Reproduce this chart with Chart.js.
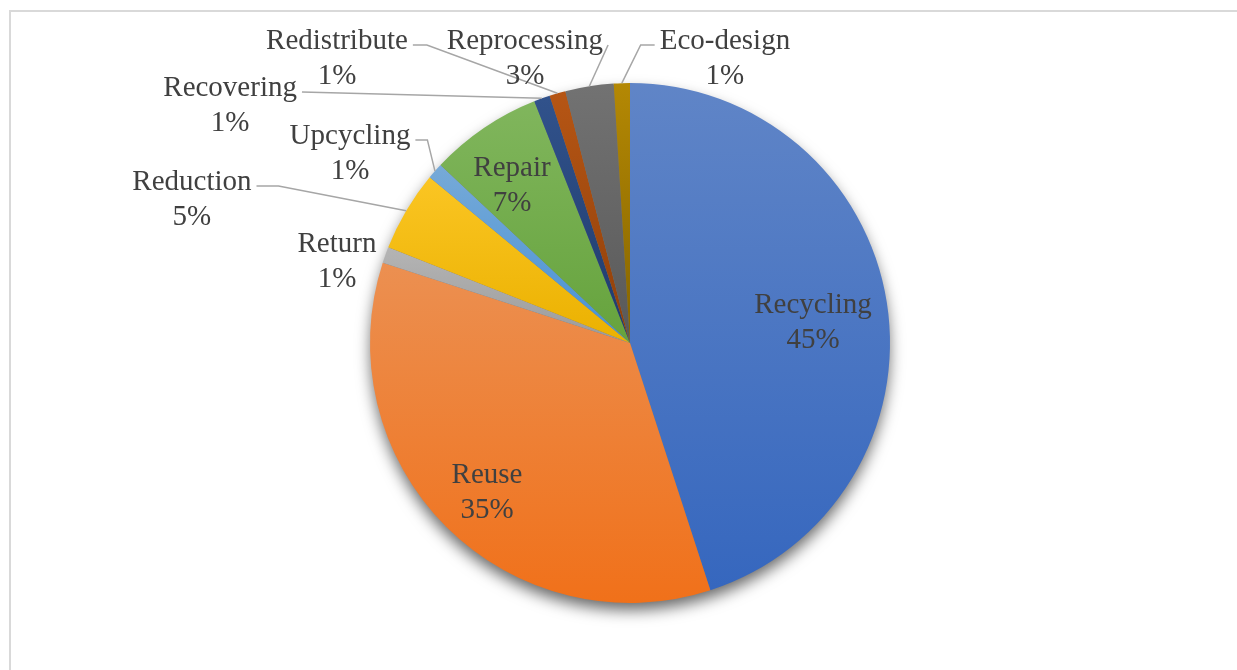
<!DOCTYPE html>
<html>
<head>
<meta charset="utf-8">
<script src="https://cdn.jsdelivr.net/npm/chart.js@4/dist/chart.umd.min.js"></script>
<style>
  html, body { margin: 0; padding: 0; background: #fff; overflow: hidden; }
  #wrap { position: relative; width: 1237px; height: 670px; }
  #frame { position: absolute; left: 9px; top: 10px; width: 1300px; height: 700px;
           border-left: 2px solid #d9d9d9; border-top: 2px solid #d9d9d9; }
  #pie { position: absolute; left: 0; top: 0; }
</style>
</head>
<body>
<div id="wrap">
  <div id="frame"></div>
  <canvas id="pie" width="1237" height="670"></canvas>
</div>
<script>
var categories = ['Recycling', 'Reuse', 'Return', 'Reduction', 'Upcycling',
                  'Repair', 'Recovering', 'Redistribute', 'Reprocessing', 'Eco-design'];
var shares = [45, 35, 1, 5, 1, 7, 1, 1, 3, 1];

// office palette
var baseColors = ['#4472C4', '#ED7D31', '#A5A5A5', '#FFC000', '#5B9BD5',
                  '#70AD47', '#264478', '#9E480E', '#636363', '#997300'];

// label centre, in pie radii from the centre; inside = drawn on the slice
var labelSpots = [
  [0.704, -0.081], [-0.550, 0.573], [-1.127, -0.315], [-1.685, -0.554], [-1.077, -0.731],
  [-0.454, -0.608], [-1.538, -0.915], [-1.127, -1.096], [-0.404, -1.096], [0.365, -1.096]
];
// leader line: -1 = none, otherwise length of the flat piece next to the label
var leaders = [-1, -1, -1, 22, 12, -1, 0, 14, 0, 14];

function hexToHsl(hex) {
  var r = parseInt(hex.substr(1, 2), 16) / 255, g = parseInt(hex.substr(3, 2), 16) / 255, b = parseInt(hex.substr(5, 2), 16) / 255;
  var max = Math.max(r, g, b), min = Math.min(r, g, b), h = 0, s = 0, l = (max + min) / 2;
  if (max !== min) {
    var d = max - min;
    s = l > 0.5 ? d / (2 - max - min) : d / (max + min);
    if (max === r) h = (g - b) / d + (g < b ? 6 : 0);
    else if (max === g) h = (b - r) / d + 2;
    else h = (r - g) / d + 4;
    h *= 60;
  }
  return [h, s * 100, l * 100];
}

function shift(hex, dl, ds) {
  var hsl = hexToHsl(hex);
  var s = hsl[1] > 0 ? Math.max(0, Math.min(100, hsl[1] + ds)) : 0;
  var l = Math.max(0, Math.min(100, hsl[2] + dl));
  return 'hsl(' + hsl[0].toFixed(1) + ',' + s.toFixed(1) + '%,' + l.toFixed(1) + '%)';
}

function sum(arr) {
  return arr.reduce(function (a, b) { return a + b; }, 0);
}

// vertical gradient over each slice's own height
function sliceFill(c) {
  var i = c.dataIndex, area = c.chart.chartArea;
  if (!area) return baseColors[i];
  var cy = (area.top + area.bottom) / 2, r = Math.min(area.width, area.height) / 2;
  var total = sum(shares);
  var a0 = -Math.PI / 2 + sum(shares.slice(0, i)) / total * 2 * Math.PI;
  var a1 = a0 + shares[i] / total * 2 * Math.PI;
  var ys = [cy, cy + r * Math.sin(a0), cy + r * Math.sin(a1)];
  [-Math.PI / 2, Math.PI / 2, 3 * Math.PI / 2].forEach(function (t) {
    if (t >= a0 && t <= a1) ys.push(cy + r * Math.sin(t));
  });
  var top = Math.min.apply(null, ys), bottom = Math.max.apply(null, ys);
  var g = c.chart.ctx.createLinearGradient(0, top, 0, bottom + 1);
  g.addColorStop(0, shift(baseColors[i], 6, -4));
  g.addColorStop(1, shift(baseColors[i], -4, 4));
  return g;
}

var pieShadow = {
  id: 'pieShadow',
  beforeDatasetsDraw: function (chart) {
    var arc = chart.getDatasetMeta(0).data[0];
    var ctx = chart.ctx;
    ctx.save();
    ctx.shadowColor = 'rgba(0,0,0,0.6)';
    ctx.shadowBlur = 15;
    ctx.shadowOffsetY = 8;
    ctx.fillStyle = '#777';
    ctx.beginPath();
    ctx.arc(arc.x, arc.y, arc.outerRadius - 1, 0, Math.PI * 2);
    ctx.fill();
    ctx.restore();
  }
};

var sliceLabels = {
  id: 'sliceLabels',
  afterDatasetsDraw: function (chart) {
    var ctx = chart.ctx;
    var arcs = chart.getDatasetMeta(0).data;
    ctx.save();
    ctx.font = '29px "Liberation Serif"';
    ctx.textAlign = 'center';
    ctx.textBaseline = 'middle';
    arcs.forEach(function (arc, i) {
      var p = arc.getProps(['x', 'y', 'startAngle', 'endAngle', 'outerRadius'], true);
      var r = p.outerRadius;
      var lx = p.x + labelSpots[i][0] * r, ly = p.y + labelSpots[i][1] * r;
      var y1 = ly - 17, y2 = ly + 18;
      var name = categories[i], pct = shares[i] + '%';

      if (leaders[i] >= 0) {
        var mid = (p.startAngle + p.endAngle) / 2;
        var ex = p.x + Math.cos(mid) * r, ey = p.y + Math.sin(mid) * r;
        var half = ctx.measureText(name).width / 2;
        var dir = lx < ex ? 1 : -1;
        var sx = lx + dir * (half + 5), sy = y1 + 4;
        ctx.strokeStyle = '#a6a6a6';
        ctx.lineWidth = 1.5;
        ctx.beginPath();
        ctx.moveTo(sx, sy);
        if (leaders[i] > 0) ctx.lineTo(sx + dir * leaders[i], sy);
        ctx.lineTo(ex, ey);
        ctx.stroke();
      }

      ctx.fillStyle = '#404040';
      ctx.fillText(name, lx, y1);
      ctx.fillText(pct, lx, y2);
    });
    ctx.restore();
  }
};

new Chart(document.getElementById('pie'), {
  type: 'pie',
  data: {
    labels: categories,
    datasets: [{
      data: shares,
      backgroundColor: sliceFill,
      borderWidth: 0
    }]
  },
  options: {
    responsive: false,
    animation: false,
    layout: { padding: { left: 370, right: 347, top: 83, bottom: 67 } },
    plugins: {
      legend: { display: false },
      tooltip: { enabled: false }
    }
  },
  plugins: [pieShadow, sliceLabels]
});
</script>
</body>
</html>
